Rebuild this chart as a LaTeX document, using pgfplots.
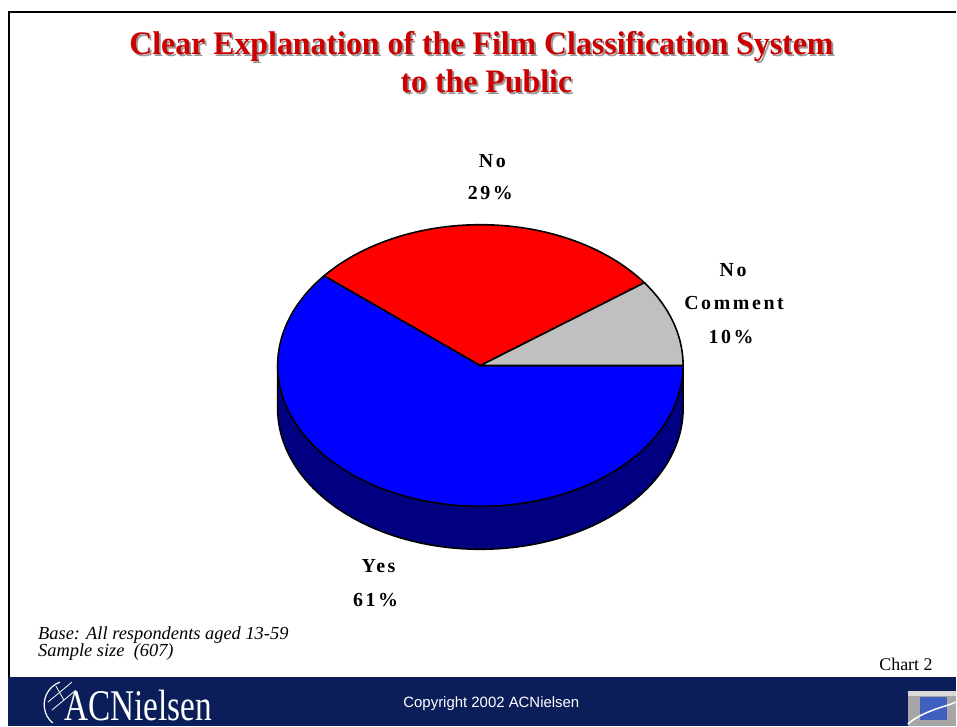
\documentclass[border=0pt]{standalone}
\usepackage{fontspec}
\setmainfont{Liberation Serif}
\newfontfamily\sansf{Liberation Sans}
\newfontfamily\labf[LetterSpace=13]{Liberation Serif}
\usepackage{pgfplots}
\usepackage{pgfplotstable}
\pgfplotsset{compat=1.18}
\definecolor{titlered}{RGB}{204,0,0}
\definecolor{pieblue}{RGB}{0,0,255}
\definecolor{sidenavy}{RGB}{0,0,128}
\definecolor{piered}{RGB}{255,0,0}
\definecolor{piegray}{RGB}{192,192,192}
\definecolor{footnavy}{RGB}{11,30,90}
\definecolor{logoblue}{RGB}{64,96,192}
\pgfplotstableread{
label value
Yes 61
No 29
NoComment 10
}\piedata
\pgfplotstablegetelem{0}{value}\of\piedata \let\vYes\pgfplotsretval
\pgfplotstablegetelem{1}{value}\of\piedata \let\vNo\pgfplotsretval
\pgfplotstablegetelem{2}{value}\of\piedata \let\vNC\pgfplotsretval
% angles (counter-clockwise, 0 = right); slices run clockwise from 0
\pgfmathsetmacro\aNC{3.6*\vNC}
\pgfmathsetmacro\aNo{\aNC+3.6*\vNo}
\def\cx{481}\def\cy{361}\def\rx{203}\def\ry{141}\def\dep{43}
\newcommand\shadowed[1]{\rlap{\hspace{2bp}\raisebox{-2bp}{\color{black!40}#1}}#1}
\begin{document}
\begin{tikzpicture}
\begin{axis}[x=1bp,y=1bp,xmin=0,xmax=957,ymin=0,ymax=727,hide axis,clip=false,scale only axis]
\fill[white] (axis cs:0,0) rectangle (axis cs:957,727);
% frame
\draw[line width=2.5bp] (axis cs:9,49) -- (axis cs:9,715) -- (axis cs:957,715);
% footer
\fill[footnavy] (axis cs:8,0) rectangle (axis cs:957,49);
% title
\node[text=titlered,font=\bfseries\fontsize{33}{40}\selectfont,anchor=base] at (axis cs:482,672) {\scalebox{0.97}[1]{\shadowed{Clear Explanation of the Film Classification System}}};
\node[text=titlered,font=\bfseries\fontsize{33}{40}\selectfont,anchor=base] at (axis cs:487,634) {\scalebox{0.97}[1]{\shadowed{to the Public}}};
% pie side (visible front band, part of Yes)
\addplot[fill=sidenavy,draw=black,line width=1.6bp,domain=180:360,samples=90]
  ({\cx+\rx*cos(x)},{\cy-\dep+\ry*sin(x)}) -- (axis cs:\cx+\rx,\cy) -- (axis cs:\cx-\rx,\cy) -- cycle;
% top slices
\addplot[fill=pieblue,draw=black,line width=1.6bp,domain=\aNo:360,samples=120]
  ({\cx+\rx*cos(x)},{\cy+\ry*sin(x)}) -- (axis cs:\cx,\cy) -- cycle;
\addplot[fill=piered,draw=black,line width=1.6bp,domain=\aNC:\aNo,samples=60]
  ({\cx+\rx*cos(x)},{\cy+\ry*sin(x)}) -- (axis cs:\cx,\cy) -- cycle;
\addplot[fill=piegray,draw=black,line width=1.6bp,domain=0:\aNC,samples=30]
  ({\cx+\rx*cos(x)},{\cy+\ry*sin(x)}) -- (axis cs:\cx,\cy) -- cycle;
% labels
\node[font=\labf\bfseries\fontsize{20}{24}\selectfont] at (axis cs:379,160) {Yes};
\node[font=\labf\bfseries\fontsize{20}{24}\selectfont] at (axis cs:376,126) {\vYes\%};
\node[font=\labf\bfseries\fontsize{20}{24}\selectfont] at (axis cs:493,566) {No};
\node[font=\labf\bfseries\fontsize{20}{24}\selectfont] at (axis cs:491,534) {\vNo\%};
\node[font=\labf\bfseries\fontsize{20}{24}\selectfont] at (axis cs:734,457) {No};
\node[font=\labf\bfseries\fontsize{20}{24}\selectfont] at (axis cs:735,424) {Comment};
\node[font=\labf\bfseries\fontsize{20}{24}\selectfont] at (axis cs:732,390) {\vNC\%};
% notes
\node[font=\itshape\fontsize{18.5}{18.5}\selectfont,anchor=base west,inner sep=0pt] at (axis cs:38,87) {Base: All respondents aged 13-59};
\node[font=\itshape\fontsize{18.5}{18.5}\selectfont,anchor=base west,inner sep=0pt] at (axis cs:38,70) {Sample size\ \ (607)};
\node[font=\fontsize{18}{18}\selectfont,anchor=base east,inner sep=0pt] at (axis cs:934,56) {Chart 2};
% footer texts
\node[font=\sansf\fontsize{15}{15}\selectfont,text=white] at (axis cs:492,22) {Copyright 2002 ACNielsen};
\node[font=\fontsize{44}{44}\selectfont,text=white,anchor=base west,inner sep=0pt] at (axis cs:64,6) {\scalebox{0.76}[1]{ACNielsen}};
\draw[white,line width=1.2bp] (axis cs:60,44) arc[start angle=110,end angle=230,radius=24bp];
\draw[white,line width=0.8bp] (axis cs:48,24) -- (axis cs:72,44);
\draw[white,line width=0.8bp] (axis cs:52,16) -- (axis cs:76,36);
\draw[white,line width=0.8bp] (axis cs:56,40) -- (axis cs:64,26);
% corner logo
\fill[black!35] (axis cs:909,0) rectangle (axis cs:957,35);
\fill[black!15] (axis cs:909,30) rectangle (axis cs:957,35);
\fill[logoblue] (axis cs:921,6) rectangle (axis cs:948,29);
\draw[white,line width=1.5bp] (axis cs:909,2) .. controls (axis cs:925,16) and (axis cs:950,20) .. (axis cs:957,24);
\end{axis}
\end{tikzpicture}
\end{document}
